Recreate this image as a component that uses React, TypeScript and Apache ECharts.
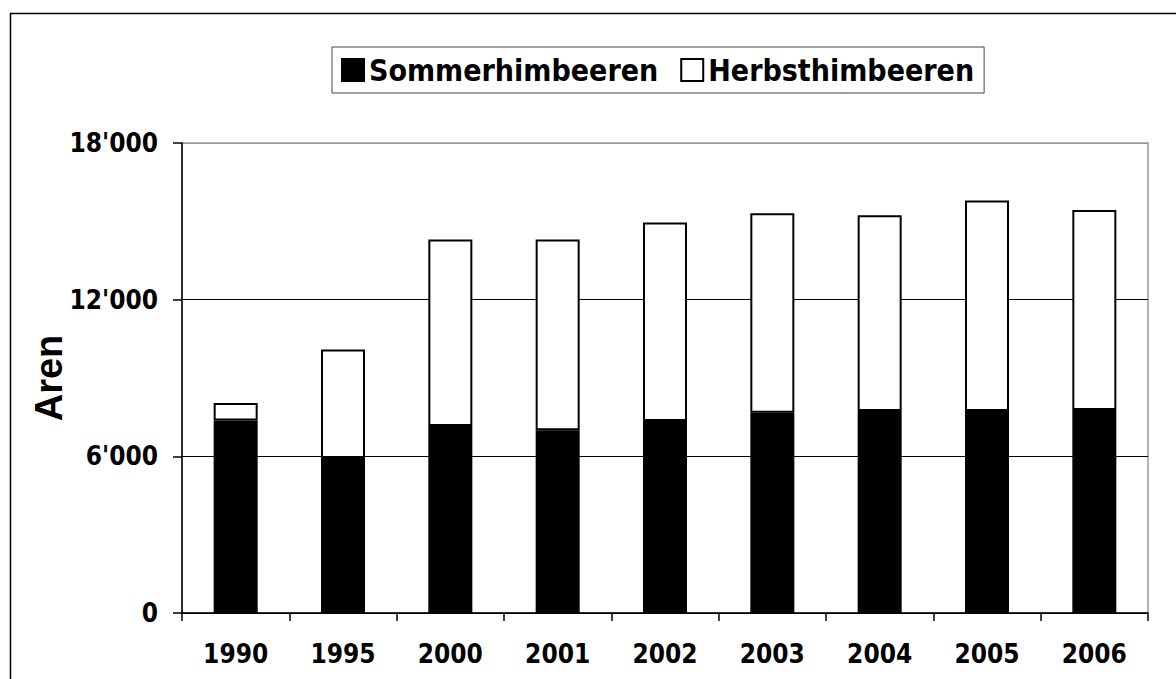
import React, { useEffect, useRef } from "react";
import * as echarts from "echarts";

const years = ["1990", "1995", "2000", "2001", "2002", "2003", "2004", "2005", "2006"];
const sommerValues = [7370, 5940, 7160, 7000, 7350, 7670, 7740, 7740, 7770];
const herbstValues = [670, 4150, 7140, 7300, 7610, 7640, 7490, 8060, 7660];
const yTicks = [0, 6000, 12000, 18000];
const seriesNames = ["Sommerhimbeeren", "Herbsthimbeeren"];
const axisTitle = "Aren";

const tickFont = "'DejaVu Sans Condensed', 'DejaVu Sans', Tahoma, sans-serif";

function fmt(v: number): string {
  const s = String(Math.round(v));
  return s.replace(/\B(?=(\d{3})+(?!\d))/g, "'");
}

export default function App() {
  const ref = useRef<HTMLDivElement>(null);
  useEffect(() => {
    document.body.style.margin = "0";
    if (!ref.current) return;
    const chart = echarts.init(ref.current, null, { renderer: "svg" });
    chart.setOption({
      animation: false,
      backgroundColor: "#fff",
      graphic: [
        {
          type: "rect",
          shape: { x: 10.5, y: 13.5, width: 1200, height: 700 },
          style: { fill: "none", stroke: "#000", lineWidth: 1.5 },
          silent: true,
          z: -10,
        },
      ],
      legend: {
        left: 332,
        top: 47,
        padding: [8, 10, 8, 9],
        itemWidth: 22,
        itemHeight: 22,
        itemGap: 22,
        borderColor: "#444",
        borderWidth: 1,
        icon: "rect",
        data: seriesNames,
        textStyle: {
          fontFamily: tickFont,
          fontWeight: "bold",
          fontSize: 30,
          color: "#000",
        },
      },
      grid: {
        left: 182,
        top: 143,
        right: 28,
        bottom: 66,
        show: true,
        borderColor: "#999",
        borderWidth: 1.5,
        backgroundColor: "#fff",
      },
      xAxis: {
        type: "category",
        data: years,
        boundaryGap: true,
        axisLine: { show: true, lineStyle: { color: "#000", width: 1.5 } },
        axisTick: { show: true, length: 8, lineStyle: { color: "#000", width: 1.5 } },
        axisLabel: {
          margin: 28,
          fontFamily: tickFont,
          fontWeight: "bold",
          fontSize: 26,
          color: "#000",
        },
      },
      yAxis: {
        type: "value",
        min: yTicks[0],
        max: yTicks[yTicks.length - 1],
        interval: yTicks[1] - yTicks[0],
        name: axisTitle,
        nameLocation: "middle",
        nameGap: 114,
        nameMoveOverlap: false,
        nameRotate: 90,
        nameTextStyle: {
          fontFamily: "'Liberation Sans', Arial, sans-serif",
          fontWeight: "bold",
          fontSize: 38,
          color: "#000",
        },
        axisLine: { show: true, lineStyle: { color: "#000", width: 1.5 } },
        axisTick: { show: true, length: 9, lineStyle: { color: "#000", width: 1.5 } },
        splitLine: {
          show: true,
          lineStyle: { color: ["#000", "#000", "#000", "#999"], width: 1 },
        },
        axisLabel: {
          margin: 24,
          fontFamily: tickFont,
          fontWeight: "bold",
          fontSize: 26,
          color: "#000",
          formatter: (v: number) => fmt(v),
        },
      },
      series: [
        {
          name: seriesNames[0],
          type: "bar",
          stack: "total",
          data: sommerValues,
          barWidth: 44,
          itemStyle: { color: "#000", borderColor: "#000", borderWidth: 1.5 },
        },
        {
          name: seriesNames[1],
          type: "bar",
          stack: "total",
          data: herbstValues,
          barWidth: 44,
          itemStyle: { color: "#fff", borderColor: "#000", borderWidth: 2 },
        },
      ],
    });
    return () => chart.dispose();
  }, []);
  return <div ref={ref} style={{ width: 1176, height: 679 }} />;
}
